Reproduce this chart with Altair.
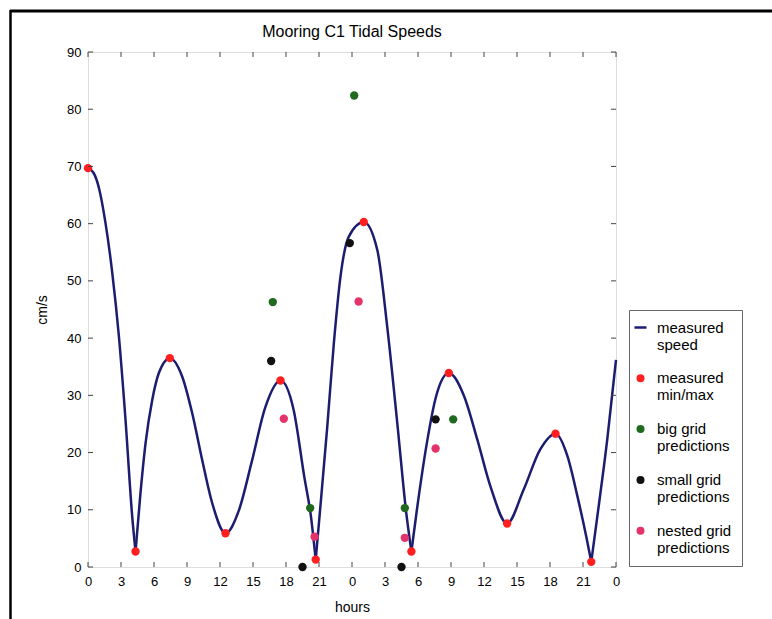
import altair as alt
import pandas as pd

# ---- data ----
series_names = ["measured speed", "measured min/max", "big grid predictions",
                "small grid predictions", "nested grid predictions"]
series_colors = ["#1c1c70", "#ff1f1f", "#1f6a1f", "#111111", "#e4336a"]

# measured speed curve (hours, cm/s), split into segments at the sharp minima
curve_hours = [0, 0.5, 1.0, 1.6, 2.2, 2.8, 3.4, 4.02, 4.32,
               4.32, 4.77, 5.23, 5.84, 6.44, 7.44, 8.56, 9.47, 10.38, 11.3, 12.5, 13.7, 14.9, 16.1, 17.5, 18.7, 19.66, 20.27, 20.7,
               20.7, 21.1, 21.75, 22.35, 22.95, 23.7, 25.07, 26.3, 27.2, 28.15, 28.9, 29.4,
               29.4, 29.9, 30.8, 31.6, 32.8, 34.2, 35.4, 36.6, 38.1, 39.6, 41.1, 42.5, 43.6, 44.5, 45.3, 45.75,
               45.75, 46.3, 47.2, 48.0]
curve_speed = [69.7, 68.9, 66.2, 60.0, 51.5, 40.5, 26.0, 8.8, 2.7,
               2.7, 12.9, 21.6, 29.2, 33.9, 36.5, 33.3, 26.9, 18.7, 11.1, 5.9, 9.8, 18.5, 27.8, 32.6, 27.4, 15.8, 8.8, 1.3,
               1.3, 10.0, 24.5, 39.1, 50.7, 57.7, 60.3, 55.4, 42.0, 24.5, 10.0, 2.7,
               2.7, 10.0, 21.6, 29.5, 33.9, 29.8, 22.2, 14.0, 7.6, 13.5, 20.5, 23.3, 19.3, 12.3, 5.3, 0.9,
               0.9, 8.8, 22.2, 36.2]
curve_segment = [0] * 9 + [1] * 19 + [2] * 12 + [3] * 16 + [4] * 4

minmax_hours = [0, 4.32, 7.44, 12.5, 17.5, 20.7, 25.07, 29.4, 32.8, 38.1, 42.5, 45.75]
minmax_speed = [69.7, 2.7, 36.5, 5.9, 32.6, 1.3, 60.3, 2.7, 33.9, 7.6, 23.3, 0.9]

big_hours = [16.8, 20.2, 24.2, 28.8, 33.2]
big_speed = [46.3, 10.3, 82.4, 10.3, 25.8]

small_hours = [16.65, 19.5, 23.8, 28.5, 31.6]
small_speed = [36.0, 0.0, 56.6, 0.0, 25.8]

nested_hours = [17.8, 20.6, 24.6, 28.8, 31.6]
nested_speed = [25.9, 5.3, 46.4, 5.1, 20.7]

x_ticks = list(range(0, 49, 3))
y_ticks = list(range(0, 91, 10))

# ---- tables ----
curve_df = pd.DataFrame({"hours": curve_hours, "speed": curve_speed,
                         "seg": curve_segment, "series": series_names[0]})
pts = []
for name, hs, vs in [(series_names[1], minmax_hours, minmax_speed),
                     (series_names[2], big_hours, big_speed),
                     (series_names[3], small_hours, small_speed),
                     (series_names[4], nested_hours, nested_speed)]:
    for h, v in zip(hs, vs):
        pts.append({"hours": h, "speed": v, "series": name})
pts_df = pd.DataFrame(pts)
xt_df = pd.DataFrame({"hours": x_ticks})
yt_df = pd.DataFrame({"speed": y_ticks})

W, H = 528, 515
FONT = "Liberation Sans"

xscale = alt.Scale(domain=[0, 48], nice=False, zero=False)
yscale = alt.Scale(domain=[0, 90], nice=False)
cscale = alt.Scale(domain=series_names, range=series_colors)

is_line = "datum.value === 'measured speed'"
legend = alt.Legend(
    title=None, orient="none", legendX=541, legendY=258, direction="vertical",
    labelFont=FONT, labelFontSize=15, labelColor="black", labelLimit=200,
    labelExpr="[substring(datum.label, 0, lastindexof(datum.label, ' ')), substring(datum.label, lastindexof(datum.label, ' ') + 1)]",
    padding=10, rowPadding=17.8, labelOffset=9, symbolOffset=-6,
    strokeColor="#666666", fillColor="white",
    symbolType=alt.ExprRef(expr=is_line + " ? 'stroke' : 'circle'"),
    symbolSize=alt.ExprRef(expr=is_line + " ? 144 : 64"),
    symbolStrokeWidth=alt.ExprRef(expr=is_line + " ? 2.5 : 0"),
    symbolStrokeColor=alt.ExprRef(expr="scale('color', datum.value)"),
    symbolOpacity=1,
)

x_axis = alt.Axis(title="hours", values=x_ticks, labelExpr="datum.value % 24",
                  ticks=False, domain=False, grid=False, labelPadding=8,
                  labelOverlap=False, labelFont=FONT, labelFontSize=13, labelColor="black",
                  titleFont=FONT, titleFontSize=14, titleFontWeight="normal",
                  titleColor="black", titlePadding=12, labelFlush=False)
y_axis = alt.Axis(title="cm/s", values=y_ticks, ticks=False, domain=False, grid=False,
                  labelPadding=7, labelOverlap=False, labelFont=FONT, labelFontSize=13,
                  labelColor="black", titleFont=FONT, titleFontSize=14,
                  titleFontWeight="normal", titleColor="black", titlePadding=17,
                  labelFlush=False)

X = alt.X("hours:Q", scale=xscale, axis=x_axis)
Y = alt.Y("speed:Q", scale=yscale, axis=y_axis)

line = alt.Chart(curve_df).mark_line(interpolate="monotone", strokeWidth=2.5).encode(
    x=X, y=Y, detail="seg:N",
    color=alt.Color("series:N", scale=cscale, legend=legend),
)

points = alt.Chart(pts_df).mark_point(filled=True, size=70, opacity=1).encode(
    x=X, y=Y,
    color=alt.Color("series:N", scale=cscale, legend=legend),
)

tick_color = "#444444"
xt_bottom = alt.Chart(xt_df).mark_rule(color=tick_color, strokeWidth=1).encode(
    x=X, y=alt.value(H), y2=alt.value(H - 5))
xt_top = alt.Chart(xt_df).mark_rule(color=tick_color, strokeWidth=1).encode(
    x=X, y=alt.value(0), y2=alt.value(5))
yt_left = alt.Chart(yt_df).mark_rule(color=tick_color, strokeWidth=1).encode(
    y=Y, x=alt.value(0), x2=alt.value(5))
yt_right = alt.Chart(yt_df).mark_rule(color=tick_color, strokeWidth=1).encode(
    y=Y, x=alt.value(W), x2=alt.value(W - 5))

# scanned figure frame (top and left edges)
frame_src = alt.Data(values=[{}])
frame_top = alt.Chart(frame_src).mark_rule(color="black", strokeWidth=3).encode(
    x=alt.value(-78), x2=alt.value(W + 160), y=alt.value(-41))
frame_left = alt.Chart(frame_src).mark_rule(color="black", strokeWidth=2.5).encode(
    x=alt.value(-77.5), y=alt.value(-42), y2=alt.value(H + 60))

chart = alt.layer(
    line, points, xt_bottom, xt_top, yt_left, yt_right, frame_top, frame_left
).properties(
    width=W, height=H,
    title=alt.Title("Mooring C1 Tidal Speeds", font=FONT, fontSize=16, fontWeight="normal",
                    color="black", anchor="middle", offset=12, frame="group", dy=43),
    autosize=alt.AutoSizeParams(type="none"),
    padding={"left": 88, "top": 52, "right": 156, "bottom": 52},
).configure_view(
    stroke="#555555", strokeWidth=1
).configure(background="white")

chart.save("out.html", embed_options={"renderer": "svg", "actions": False})
